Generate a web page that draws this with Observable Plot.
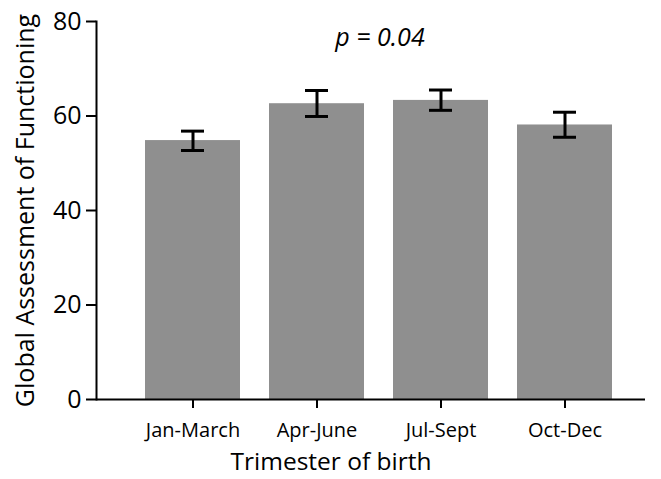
<!DOCTYPE html>
<html>
<head>
<meta charset="utf-8">
<script src="https://cdn.jsdelivr.net/npm/d3@7"></script>
<script src="https://cdn.jsdelivr.net/npm/@observablehq/plot@0.6"></script>
<style>
  html, body { margin: 0; padding: 0; background: #fff; }
  #chart svg { display: block; }
</style>
</head>
<body>
<div id="chart"></div>
<script>
const categories = ["Jan-March", "Apr-June", "Jul-Sept", "Oct-Dec"];
const means = [54.8, 62.6, 63.3, 58.1];
const lower = [52.7, 59.9, 61.2, 55.5];
const upper = [56.8, 65.4, 65.5, 60.8];
const yTicks = [0, 20, 40, 60, 80];
const pLabel = "p = 0.04";
const xLabel = "Trimester of birth";
const yLabel = "Global Assessment of Functioning";

const data = categories.map((c, i) => ({cat: c, mean: means[i], lo: lower[i], hi: upper[i]}));

const font = "'Open Sans', sans-serif";

const chart = Plot.plot({
  width: 661,
  height: 479,
  marginLeft: 96,
  marginRight: 16,
  marginTop: 21,
  marginBottom: 80,
  style: {fontFamily: font, background: "#fff", color: "#000"},
  x: {domain: categories, range: [130, 628], paddingInner: 0.23, paddingOuter: 0.115},
  y: {domain: [0, 80]},
  marks: [
    Plot.barY(data, {x: "cat", y: "mean", fill: "#8f8f8f"}),
    Plot.ruleX(data, {x: "cat", y1: "lo", y2: "hi", stroke: "#000", strokeWidth: 3}),
    Plot.tickY(data, {x: "cat", y: "lo", stroke: "#000", strokeWidth: 3, inset: 36}),
    Plot.tickY(data, {x: "cat", y: "hi", stroke: "#000", strokeWidth: 3, inset: 36}),
    Plot.axisY({ticks: yTicks, tickSize: 10, tickPadding: 5, fontSize: 25, strokeWidth: 2,
      label: yLabel, labelAnchor: "center", labelArrow: "none", labelOffset: 80}),
    Plot.axisX({tickSize: 9, tickPadding: 14, fontSize: 20, strokeWidth: 2, label: null}),
    Plot.frame({anchor: "left", stroke: "#000", strokeWidth: 2}),
    Plot.ruleY([0], {stroke: "#000", strokeWidth: 2}),
    Plot.text([xLabel], {frameAnchor: "bottom", lineAnchor: "middle", dx: -40, dy: 63, text: d => d, fontSize: 24.5, fill: "#000"}),
    Plot.text([pLabel], {frameAnchor: "top", dx: 9, dy: 7, text: d => d, fontSize: 25, fontStyle: "italic", fill: "#000"})
  ]
});

chart.querySelectorAll("[aria-label='y-axis label']").forEach(g => {
  g.setAttribute("font-size", 25);
  g.querySelectorAll("text").forEach(t => t.setAttribute("font-size", 25));
});
document.getElementById("chart").appendChild(chart);
</script>
</body>
</html>
